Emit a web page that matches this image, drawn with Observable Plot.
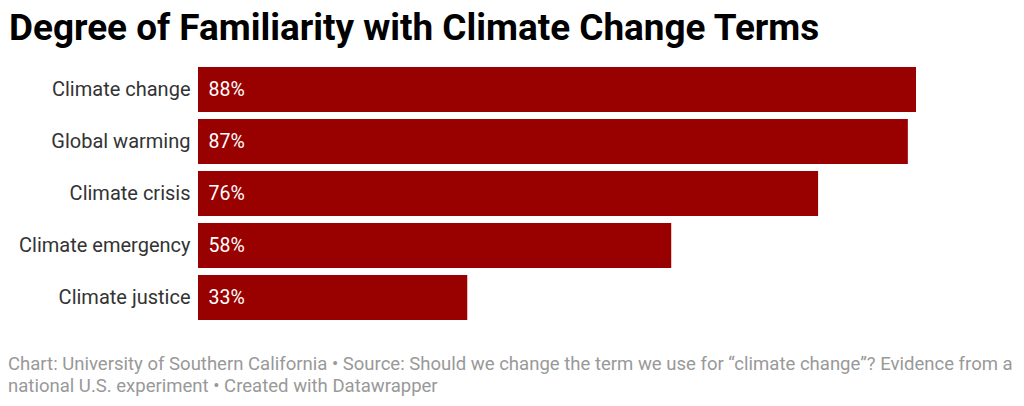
<!DOCTYPE html>
<html><head><meta charset="utf-8">
<script src="https://cdn.jsdelivr.net/npm/d3@7"></script>
<script src="https://cdn.jsdelivr.net/npm/@observablehq/plot@0.6"></script>
<style>
body{margin:0;background:#fff;font-family:Roboto,sans-serif;width:1024px;height:406px;overflow:hidden;position:relative}
#title{position:absolute;left:9px;top:10px;font-size:36.9px;line-height:1;font-weight:700;color:#000;white-space:nowrap}
#chart{position:absolute;left:0;top:55px}
#foot{position:absolute;left:8px;top:354px;font-size:18.55px;color:#999;line-height:21.5px;white-space:nowrap}
</style></head><body>
<div id="title">Degree of Familiarity with Climate Change Terms</div>
<div id="chart"></div>
<div id="foot">Chart: University of Southern California • Source: Should we change the term we use for “climate change”? Evidence from a<br>national U.S. experiment • Created with Datawrapper</div>
<script>
const terms = ["Climate change","Global warming","Climate crisis","Climate emergency","Climate justice"];
const values = [88,87,76,58,33];
const data = terms.map((t,i)=>({term:t,value:values[i]}));
const chart = Plot.plot({
  width:1024, height:265,
  marginLeft:198, marginRight:108, marginTop:12, marginBottom:0,
  style:{fontFamily:"Roboto, sans-serif", background:"#fff"},
  x:{domain:[0,88], axis:null},
  y:{domain:terms, paddingInner:0.135, paddingOuter:0, label:null},
  marks:[
    Plot.barX(data,{x:"value", y:"term", fill:"#990000"}),
    Plot.text(data,{x:0, y:"term", text:d=>d.value+"%", textAnchor:"start", dx:10, fill:"#fff", fontSize:19.5}),
    Plot.axisY({tickSize:0, tickPadding:8, fontSize:20, color:"#333", label:null})
  ]
});
document.getElementById("chart").append(chart);
</script>
</body></html>
